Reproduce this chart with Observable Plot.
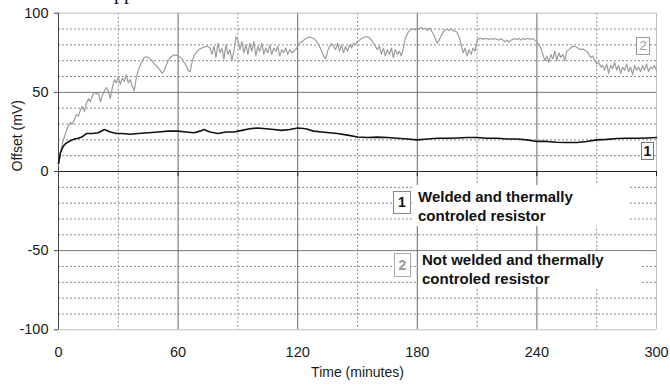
<!DOCTYPE html>
<html><head><meta charset="utf-8">
<script src="https://cdn.jsdelivr.net/npm/d3@7"></script>
<script src="https://cdn.jsdelivr.net/npm/@observablehq/plot@0.6"></script>
<style>
body{margin:0;background:#fff;}
#wrap{position:relative;width:670px;height:385px;overflow:hidden;font-family:"Liberation Sans",Arial,sans-serif;}
#wrap svg{position:absolute;left:0;top:0;}
.bg{position:absolute;background:#fff;}
.box{position:absolute;box-sizing:border-box;background:#fff;border:1px solid #999;text-align:center;}
.lg{position:absolute;font-weight:bold;font-size:15px;line-height:19px;color:#111;white-space:nowrap;}
.cut{position:absolute;left:114px;top:-18px;font:20px "Liberation Serif",serif;line-height:20px;color:#111;}
</style></head><body><div id="wrap"></div>
<script>
// Time axis ticks (minutes) and offset ticks (mV)
const xTicks = [0, 60, 120, 180, 240, 300];
const xMinor = [30, 90, 150, 210, 270];
const xMajor = [60, 120, 180, 240];
const yTicks = [-100, -50, 0, 50, 100];
const yMajor = [-50, 50];
const yMinor = [-90, -80, -70, -60, -40, -30, -20, -10, 10, 20, 30, 40, 60, 70, 80, 90];

// Series 1: welded and thermally controlled resistor (black)
const blackTimes = [0,1,2,3,4,6,8,10,12,14,17,20,23,26,29,32,36,40,45,50,55,60,64,68,71,73,76,80,84,88,92,96,100,104,108,112,116,120,124,128,132,136,140,145,150,155,160,165,170,175,180,185,190,195,200,205,210,215,220,225,230,235,240,245,250,255,260,265,270,275,280,285,290,295,300];
const blackValues = [5,12,15,17,18,19.5,20.5,21,22,24,24,24.5,26.5,25,24,24,23.5,24,24.5,25,25.5,25.5,25,24.5,25.5,26.5,25,24,25,25,26,27,27.5,27,26.5,26,26.5,27.5,27,25.5,25,24.5,24,23,21.8,21.5,21.7,21.5,21,20.5,20,20.5,21,21,21.2,21.5,21.5,21,21,20.5,20.5,20,19,19,18.5,18.3,18.3,19,20,20.3,20.8,21,21,21.2,21.5];

// Series 2: not welded resistor (grey), one reading per minute from 0 to 300
const grayValues = [
4,12,18,22,26,29,31,30,33,36,
35,39,41,38,43,46,44,48,50,49,
50,44,48,51,53,51,46,53,58,56,
60,55,59,57,61,56,58,54,51,59,
64,67,70,72,72.5,72,71,70,68,67,
65.5,64,62,63.5,67,70,72,73,73.5,73.5,
73,72,71,69,67,64,63,69,73,75,
76.5,77.5,78,78.5,79,79,78,74,79,72,
81,75,78,71,80,74,77,70,76,85,
83,77,82,75,80,74,81,76,82,73,
79,76,81,74,78,75,80,74,78,76,
79,73,77,75,78,74,77,75,76,77,
79,81,82,83,84,84.5,85,84.5,84,83,
81,79,76,73,71,76,79,81,79,77,
81,76,80,75,79,76,80,78,81,80,
82,83,84,84.5,85,85,84.5,83,81,79,
77,79,74,78,73,77,74,78,72,77,
74,76,73,78,84,87,89,90,90,89.5,
90.5,90,91,90,90.5,89,90.5,89,87,84,
81,83,86,88,89.5,90,89,90,89,88.5,
88,85,80,75,78,73,77,74,78,76,
83,84,84,83.5,84,84,83.5,84,83.5,84,
83.5,83,84,83,82,83,81.5,83,83.5,84,
83.5,84,83,84,83.5,84,84,83.5,84,83,
82,80,78,74,70,73,69,74,71,76,
70,75,72,74,70,76,77,78,79,79,
78.5,77.5,77,77.5,76.5,76,74,72,73,70,
68,69,66,67,64,68,62,67,65,69,
64,67,62,66,64,68,63,66,61,67,
64,66,63,67,64,68,63,66,65,67,64];

const blackData = blackTimes.map((t, i) => ({t, v: blackValues[i]}));
const grayData = grayValues.map((v, i) => ({t: i, v}));

const dotted = {stroke: "#8a8a8a", strokeDasharray: "2,2"};

const chart = Plot.plot({
  width: 670, height: 385,
  marginLeft: 58, marginRight: 14, marginTop: 12.7, marginBottom: 55.7,
  x: {domain: [0, 300]},
  y: {domain: [-100, 100]},
  style: {fontFamily: "'Liberation Sans', Arial, sans-serif", fontSize: "14.5px", color: "#1a1a1a", background: "white"},
  marks: [
    Plot.ruleY(yMinor, dotted),
    Plot.ruleX(xMinor, dotted),
    Plot.ruleY(yMajor, {stroke: "#777"}),
    Plot.ruleX(xMajor, {stroke: "#666"}),
    Plot.ruleY([100, -100], {stroke: "#bdbdbd"}),
    Plot.ruleX([300], {stroke: "#bdbdbd"}),
    Plot.ruleX([0], {stroke: "#444"}),
    Plot.ruleX(xTicks, {y1: 0, y2: -3.2, stroke: "#222"}),
    Plot.ruleY([0], {stroke: "#222"}),
    Plot.line(grayData, {x: "t", y: "v", stroke: "#9c9c9c", strokeWidth: 1.2}),
    Plot.line(blackData, {x: "t", y: "v", stroke: "#111", strokeWidth: 1.6}),
    Plot.axisX({ticks: xTicks, tickSize: 0, tickPadding: 17, label: null, tickFormat: d => String(d)}),
    Plot.axisY({ticks: yTicks, tickSize: 4, tickPadding: 6, label: null, stroke: "#444", tickFormat: d => String(d)}),
    Plot.text(["Time (minutes)"], {text: d => d, frameAnchor: "bottom", dy: 47, fontSize: 14}),
    Plot.text(["Offset (mV)"], {text: d => d, frameAnchor: "left", dx: -41, rotate: -90, fontSize: 14})
  ]
});

const wrap = document.getElementById("wrap");
wrap.appendChild(chart);
wrap.insertAdjacentHTML("beforeend", `
<div class="cut">pp</div>
<div class="bg" style="left:412px;top:185px;width:216px;height:41px"></div>
<div class="bg" style="left:418px;top:251px;width:223px;height:36px"></div>
<div class="box" style="left:393px;top:191px;width:18px;height:23px;font-weight:bold;font-size:14px;line-height:21px;color:#111;border-color:#888">1</div>
<div class="box" style="left:394px;top:253px;width:17px;height:24px;font-weight:bold;font-size:14px;line-height:22px;color:#999;border-color:#aaa">2</div>
<div class="lg" style="left:418px;top:187px">Welded and thermally<br>controled resistor</div>
<div class="lg" style="left:422px;top:250px">Not welded and thermally<br>controled resistor</div>
<div class="box" style="left:636px;top:37px;width:14px;height:18px;font-size:13px;line-height:16px;color:#999;border-color:#999">2</div>
<div class="box" style="left:641px;top:142px;width:13px;height:18px;font-weight:bold;font-size:14px;line-height:16px;color:#111;border-color:#777">1</div>
`);
</script></body></html>
